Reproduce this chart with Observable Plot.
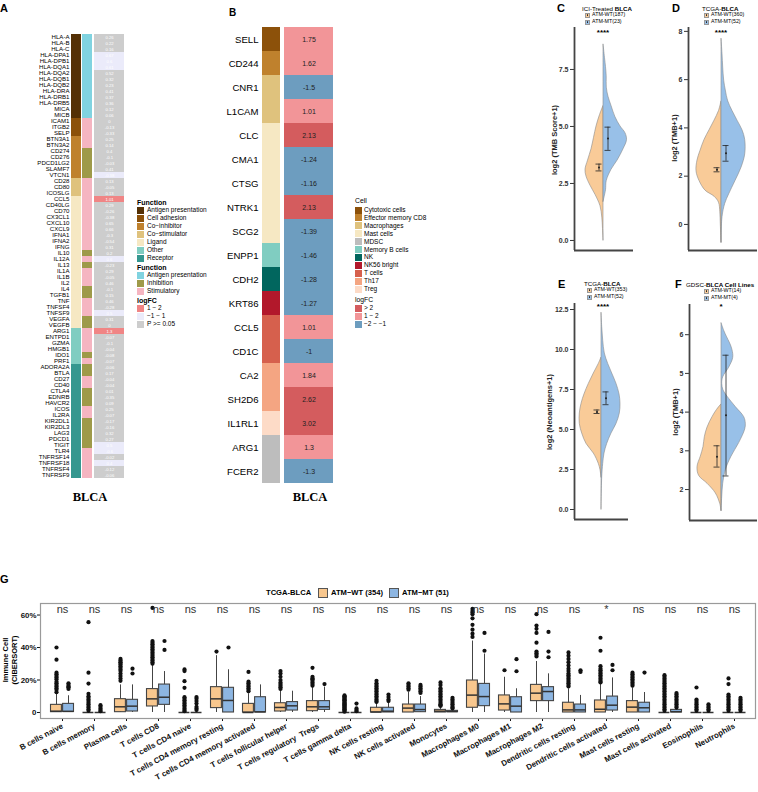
<!DOCTYPE html>
<html><head><meta charset="utf-8">
<script src="https://cdn.jsdelivr.net/npm/d3@7"></script>
<script src="https://cdn.jsdelivr.net/npm/@observablehq/plot@0.6"></script>
<style>
body{margin:0;background:#fff;}
#root{position:relative;width:758px;height:792px;overflow:hidden;background:#fff;}
</style></head><body><div id="root"></div>
<script>
const SANS = '"Liberation Sans", Arial, Helvetica, sans-serif';
const SERIF = '"Liberation Serif", "Times New Roman", serif';

// ---------- Panel A data ----------
const genesA = ["HLA-A","HLA-B","HLA-C","HLA-DPA1","HLA-DPB1","HLA-DQA1","HLA-DQA2","HLA-DQB1","HLA-DQB2","HLA-DRA","HLA-DRB1","HLA-DRB5","MICA","MICB",
"ICAM1","ITGB2","SELP",
"BTN3A1","BTN3A2","CD274","CD276","PDCD1LG2","SLAMF7","VTCN1",
"CD28","CD80","ICOSLG",
"CCL5","CD40LG","CD70","CX3CL1","CXCL10","CXCL9","IFNA1","IFNA2","IFNG","IL10","IL12A","IL13","IL1A","IL1B","IL2","IL4","TGFB1","TNF","TNFSF4","TNFSF9","VEGFA","VEGFB",
"ARG1","ENTPD1","GZMA","HMGB1","IDO1","PRF1",
"ADORA2A","BTLA","CD27","CD40","CTLA4","EDNRB","HAVCR2","ICOS","IL2RA","KIR2DL1","KIR2DL3","LAG3","PDCD1","TIGIT","TLR4","TNFRSF14","TNFRSF18","TNFRSF4","TNFRSF9"];
const func1Names = ["Antigen presentation","Cell adhesion","Co−inhibitor","Co−stimulator","Ligand","Other","Receptor"];
const func1Colors = ["#543005","#8c510a","#bf812d","#dfc27d","#f6e8c3","#80cdc1","#35978f"];
const func1A = [
"Antigen presentation","Antigen presentation","Antigen presentation","Antigen presentation","Antigen presentation","Antigen presentation","Antigen presentation","Antigen presentation","Antigen presentation","Antigen presentation","Antigen presentation","Antigen presentation","Antigen presentation","Antigen presentation",
"Cell adhesion","Cell adhesion","Cell adhesion",
"Co−inhibitor","Co−inhibitor","Co−inhibitor","Co−inhibitor","Co−inhibitor","Co−inhibitor","Co−inhibitor",
"Co−stimulator","Co−stimulator","Co−stimulator",
"Ligand","Ligand","Ligand","Ligand","Ligand","Ligand","Ligand","Ligand","Ligand","Ligand","Ligand","Ligand","Ligand","Ligand","Ligand","Ligand","Ligand","Ligand","Ligand","Ligand","Ligand","Ligand",
"Other","Other","Other","Other","Other","Other",
"Receptor","Receptor","Receptor","Receptor","Receptor","Receptor","Receptor","Receptor","Receptor","Receptor","Receptor","Receptor","Receptor","Receptor","Receptor","Receptor","Receptor","Receptor","Receptor"];
const func2Names = ["Antigen presentation","Inhibition","Stimulatory"];
const func2Colors = ["#80d3e0","#9e9a49","#f5b5c1"];
const AP = "Antigen presentation", IN = "Inhibition", ST = "Stimulatory";
const func2A = [AP,AP,AP,AP,AP,AP,AP,AP,AP,AP,AP,AP,AP,AP,
ST,ST,ST,ST,ST,IN,IN,IN,IN,IN,
ST,ST,ST,ST,ST,ST,ST,ST,ST,ST,ST,ST,
IN,ST,IN,ST,ST,ST,IN,IN,ST,ST,ST,IN,IN,
ST,ST,ST,ST,IN,ST,
IN,IN,ST,ST,IN,IN,IN,ST,ST,IN,IN,IN,IN,IN,ST,ST,ST,ST,ST];
const logfcA = [0.26,0.22,0.16,0.67,0.6,0.61,0.52,0.32,0.23,0.41,0.37,0.36,0.12,0.06,
0,-0.13,-0.33,
0.25,0.14,0.4,-0.1,-0.03,0.41,-0.38,
0.13,-0.05,0.13,
1.01,0.29,-0.26,-0.38,0.65,0.66,-0.3,-0.54,0.31,0.2,0.6,-0.23,0.29,-0.05,0.46,-0.1,0.15,0.46,-0.28,0.5,0.31,0,
1.3,-0.07,-0.1,-0.04,-0.08,-0.07,
-0.06,0.17,-0.04,-0.04,0.01,-0.35,0.09,0.25,-0.07,-0.17,-0.16,0.32,0.27,0.5,-0.6,-0.02,0.4,-0.12,-0.06];
const fcNamesA = ["1 − 2","−1 − 1","P >= 0.05"];
const fcColorsA = ["#f08585","#ebebfa","#cdcdcd"];
const H = "1 − 2", M = "−1 − 1", N = "P >= 0.05";
const sigA = [N,N,N,M,M,M,N,N,N,N,N,N,N,N,
N,N,N,
N,N,N,N,N,N,M,
N,N,N,
H,N,N,N,N,N,N,N,N,N,M,N,N,N,N,N,N,N,N,M,N,N,
H,N,N,N,N,N,
N,N,N,N,N,N,N,N,N,N,N,N,N,M,M,N,M,N,N];

// ---------- Panel B data ----------
const genesB = ["SELL","CD244","CNR1","L1CAM","CLC","CMA1","CTSG","NTRK1","SCG2","ENPP1","CDH2","KRT86","CCL5","CD1C","CA2","SH2D6","IL1RL1","ARG1","FCER2"];
const cellNames = ["Cytotoxic cells","Effector memory CD8","Macrophages","Mast cells","MDSC","Memory B cells","NK","NK56 bright","T cells","Th17","Treg"];
const cellColors = ["#8c510a","#bf812d","#dfc27d","#f6e8c3","#bdbdbd","#80cdc1","#01665e","#b2182b","#d6604d","#f4a582","#fddbc7"];
const cellB = ["Cytotoxic cells","Effector memory CD8","Macrophages","Macrophages","Mast cells","Mast cells","Mast cells","Mast cells","Mast cells","Memory B cells","NK","NK56 bright","T cells","T cells","Th17","Th17","Treg","MDSC","MDSC"];
const logfcB = [1.75,1.62,-1.5,1.01,2.13,-1.24,-1.16,2.13,-1.39,-1.46,-1.28,-1.27,1.01,-1,1.84,2.62,3.02,1.3,-1.3];
const fcNamesB = ["> 2","1 − 2","−2 − −1"];
const fcColorsB = ["#d45c5e","#f29598","#6d9dbf"];
const fcCatB = ["1 − 2","1 − 2","−2 − −1","1 − 2","> 2","−2 − −1","−2 − −1","> 2","−2 − −1","−2 − −1","−2 − −1","−2 − −1","1 − 2","−2 − −1","1 − 2","> 2","> 2","1 − 2","−2 − −1"];

// ---------- Violin panels data: [value, half-width] ----------
const violinC_WT = [[0,0],[0.5,0.5],[1,1.2],[1.5,3],[2,8],[2.4,13],[2.8,17],[3.1,18],[3.5,15.5],[4,12],[4.5,9.5],[5,7],[5.5,3.5],[5.9,0]];
const violinC_MT = [[1.7,0],[2.2,2.5],[2.6,3.2],[3.1,8],[3.5,14],[4,20],[4.4,23.5],[4.7,22],[5,17],[5.4,12],[5.9,8],[6.3,5],[6.7,3.3],[7.2,3.2],[7.6,2.5],[8,1.5],[8.6,0]];
const violinD_WT = [[-0.75,0],[0,0.7],[0.5,1.2],[0.9,2.5],[1.15,7],[1.4,16],[1.8,22],[2.2,25],[2.65,24],[3.05,21],[3.5,17],[3.9,12],[4.3,7],[4.7,2.5],[5.1,0]];
const violinD_MT = [[-0.75,0],[0.3,1],[0.85,3.7],[1.25,7.7],[1.8,14],[2.35,20],[2.9,23.7],[3.5,23.7],[3.9,21],[4.3,16],[4.7,11],[5.1,6.7],[5.55,4.3],[5.95,2.7],[6.5,1.7],[7.05,1],[7.7,0]];
const violinE_WT = [[2,0],[2.45,1],[2.85,2.7],[3.5,7.7],[4.1,15],[4.75,19.3],[5.35,21.7],[6,21.7],[6.6,20],[7.2,17],[7.85,12.7],[8.5,7.7],[9.1,2.7],[9.5,0]];
const violinE_MT = [[0,0],[2,0.7],[2.85,1.7],[3.5,3],[4.1,5.7],[4.75,10],[5.35,15],[6,18.3],[6.6,19],[7.2,18],[7.85,15],[8.5,10.7],[9.1,6.7],[9.75,3.3],[10.55,1.7],[11.4,0.7],[12.3,0]];
const violinF_WT = [[1.45,0],[1.63,1.3],[1.9,5.7],[2.15,14],[2.35,22.3],[2.58,24],[2.85,20.7],[3.1,18],[3.35,16.7],[3.6,14],[3.87,9],[4.05,4.7],[4.2,0]];
const violinF_MT = [[1.45,0],[1.8,0.7],[2.15,1.7],[2.5,4.3],[2.85,10],[3.2,17.7],[3.55,23.7],[3.7,24.3],[3.87,22.7],[4.13,14.3],[4.4,6],[4.56,2],[4.73,0.7],[4.9,1.7],[5.15,7.7],[5.4,11.7],[5.6,11],[5.77,8.7],[5.95,5.3],[6.1,2.7],[6.3,0]];
// mean, lower, upper for [WT, MT]
const errC = [[3.2,3.05,3.35],[4.47,3.95,4.97]];
const errD = [[2.27,2.18,2.35],[2.95,2.62,3.27]];
const errE = [[6.1,6.0,6.22],[6.95,6.55,7.35]];
const errF = [[2.85,2.58,3.13],[3.92,2.35,5.47]];

// ---------- Panel G data ----------
const gCats = ["B cells naive","B cells memory","Plasma cells","T cells CD8","T cells CD4 naive","T cells CD4 memory resting","T cells CD4 memory activated","T cells follicular helper","T cells regulatory \u00a0Tregs","T cells gamma delta","NK cells resting","NK cells activated","Monocytes","Macrophages M0","Macrophages M1","Macrophages M2","Dendritic cells resting","Dendritic cells activated","Mast cells resting","Mast cells activated","Eosinophils","Neutrophils"];
const gSig = ["ns","ns","ns","ns","ns","ns","ns","ns","ns","ns","ns","ns","ns","ns","ns","ns","ns","*","ns","ns","ns","ns"];
// [whisker low, q1, median, q3, whisker high] in %
const wtStats = [[0,0.2,0.8,4.7,11.5],[0,0,0,0,0],[0,0.2,3.5,8.2,17],[0,3.7,8.4,14.4,29],[0,0,0,0,0],[0,2.7,8.4,15.6,35],[0,0,0,5.3,11.5],[0,0.6,3.1,5.7,13.5],[0,0.8,3.5,7,15.6],[0,0,0,0,0],[0,0,0.3,2.9,6],[0,0,2.7,4.9,12.5],[0,0,0.8,1.6,3.5],[0,2.9,10.7,19.7,44],[0,1.2,5.3,10.5,21.7],[0,7,11.9,17,31.4],[0,0,1.6,6,14.6],[0,0,2,7.4,17.6],[0,0,3.3,7,15.2],[0,0,0,0,0],[0,0,0,0,0],[0,0,0,0,0]];
const mtStats = [[0,0.3,0.7,5.3,10.3],[0,0,0,0,0],[0,0.6,3.9,7.8,17],[0,4.7,9.4,17.2,25.2],[0,0,0,0,0],[0,0,7.4,15.2,26.3],[0,0,0.4,9.4,17],[0,1.2,4.1,6.4,13.1],[0,1.6,3.5,7,15.6],[0,0,0,0,0],[0,0,0.8,2.9,6.5],[0,0.2,1.8,4.9,9.8],[0,0.2,0.6,1,1.8],[0,3.9,9.8,17.6,36],[0,0,3.9,9.4,14.6],[0,7,12.9,15.6,23.8],[0,0,1.6,4.9,10.5],[0,1.2,4.5,9.8,21.3],[0,0,2.9,6,12.3],[0,0,0.5,1.6,2.5],[0,0,0,0,0],[0,0,0,0,0]];
const wtOut = [[40,32.5,24.5,23.5,22.5,21.5,20.5,19,18,17,16,15,14,12.5],[55.6,24.5,17.8,11.5,10,9,8,7,6,5,4,3,2,1],[33,32,31,30.5,29.5,28.5,27.5,26.5,25.5,24,22.5,21,19.5],[64.4,44,43,42,41,40,39,38,37,36,35,34,33,32,31,30],[26.5,25.5,19.3,15.2,9.4,8.5,7.5,6.5,5.5,4.5,3.5,2.5,1.5,0.8],[37.5],[25,19,18,17,16,15,14,13],[25.5,24,22,20,18.5,17.5,16.5,15.5,14.5],[27.5,22,21,20.5,19.5,18.5,17.5,16.5],[10.5,10,9.5,9,8.5,8,7.5,7,6.5,6,5.5,5,4.5,4,3.5,3,2.5,2,1.5,1,0.5],[19.5,18,17,16,15,14,13,12,11,10,9,8,7,6.5],[18,17,16,15,14],[18.5,17,15,14,13,12,11,10,9,8,7,6,5,4.5,4],[63.8,62.5,61.5,60.5,58,54,51,48.5,46.5],[26],[60.5,53.5,51.5,49,43,37.5,36.5,35.5,34.5],[37,35,33,31,29,27,25.5,24,23,22,21,20,19,18,17,16],[46,38,28.5,27,26,25,24,23,22,21,20,19,18.5],[24.5,23.5,22.5,21.5,20.5,19.5,18.5,17.5,16.5],[23,22,21,20,19,18,17,16,15,14,13,12,11,10,9,8,7,6,5,4,3,2,1],[15.4,8,7,6,5,4,3,2,1],[21,17.5,11,10,9,8,7,6,5,4,3,2,1]];
const mtOut = [[18,17,16,15.5,14.5],[4.5,3.5,2.5,1.5,0.8],[27,24],[44,38.5],[9.5,8.5,7,5.5,3.5,2.5,1.5],[40],[],[],[17.5],[5.5,2.5,1.5,0.8],[11,9.5,8,7],[17,16,15,14,13,12],[9,8,7,6,5,4,3,2.5],[49,38],[32.8,25.4],[49.6,37.5,34],[26,25],[29.3,26],[24.6],[12,11,10,9,8,7,6,5,4,3],[5,4,3,2,1],[9,8,7,6,5,4,3,2,1]];

// ---------- helpers ----------
const root = document.getElementById("root");
function put(node, x, y) {
  const d = document.createElement("div");
  d.style.cssText = `position:absolute;left:${x}px;top:${y}px;line-height:0;`;
  d.appendChild(node); root.appendChild(d); return d;
}
function label(html, x, y, o = {}) {
  const d = document.createElement("div");
  d.innerHTML = html;
  const tx = o.anchor === "middle" ? "-50%" : o.anchor === "end" ? "-100%" : "0";
  d.style.cssText = `position:absolute;left:${x}px;top:${y}px;white-space:nowrap;line-height:1;font-size:${o.size||7}px;font-weight:${o.weight||"normal"};font-family:${o.family||SANS};color:${o.color||"#000"};transform:translate(${tx},-50%)${o.rotate?` rotate(${o.rotate}deg)`:""};`;
  root.appendChild(d); return d;
}
function swatch(x, y, w, h, color, border, dot) {
  const d = document.createElement("div");
  d.style.cssText = `position:absolute;left:${x}px;top:${y - h/2}px;width:${w}px;height:${h}px;background:${color};box-sizing:border-box;${border?`border:1px solid ${border};`:""}`;
  if (dot) { const s = document.createElement("div"); s.style.cssText = `position:absolute;left:50%;top:50%;width:1.5px;height:1.5px;margin:-0.75px 0 0 -0.75px;background:#222;border-radius:50%;`; d.appendChild(s); }
  root.appendChild(d);
}
const baseStyle = (size, weight) => ({fontFamily: SANS, fontSize: size + "px", fontWeight: weight || "normal", background: "transparent", color: "#000", overflow: "visible"});

function heatColumn(o) {
  const marks = [Plot.cell(o.data, {x: () => "c", y: "gene", fill: o.fill, inset: 0})];
  if (o.text) marks.push(Plot.text(o.data, {x: () => "c", y: "gene", text: o.text, fill: o.textFill, fontSize: o.textSize}));
  const svg = Plot.plot({
    width: o.marginLeft + o.width, height: o.bottom + 4,
    marginLeft: o.marginLeft, marginRight: 0, marginTop: o.top, marginBottom: 4,
    x: {domain: ["c"], axis: null, padding: 0},
    y: {domain: o.yDomain, padding: 0, axis: o.axis ? "left" : null, tickSize: 0, tickPadding: o.tickPadding || 2, label: null},
    color: {domain: o.domain, range: o.range},
    style: baseStyle(o.fontSize || 6),
    marks
  });
  put(svg, o.left - o.marginLeft, 0);
}

// ---------- Panel A ----------
const rowsA = genesA.map((g, i) => ({gene: g, f1: func1A[i], f2: func2A[i], fc: logfcA[i], sig: sigA[i]}));
heatColumn({data: rowsA, fill: "f1", domain: func1Names, range: func1Colors, left: 71, width: 10, marginLeft: 71, top: 25, bottom: 486, yDomain: genesA, axis: true, fontSize: 6.1, tickPadding: 2});
heatColumn({data: rowsA, fill: "f2", domain: func2Names, range: func2Colors, left: 82, width: 10, marginLeft: 0, top: 25, bottom: 486, yDomain: genesA});
heatColumn({data: rowsA, fill: "sig", domain: fcNamesA, range: fcColorsA, left: 94, width: 30, marginLeft: 0, top: 25, bottom: 486, yDomain: genesA, text: d => String(d.fc), textFill: "white", textSize: 4.2});
label("BLCA", 90, 497, {size: 12.5, weight: "bold", family: SERIF, anchor: "middle"});

// legend A
label("Function", 137, 202, {size: 7, weight: "bold"});
func1Names.forEach((n, i) => { swatch(137, 210 + 8 * i, 7, 7, func1Colors[i]); label(n, 147, 210 + 8 * i, {size: 6.5}); });
label("Function", 137, 267, {size: 7, weight: "bold"});
func2Names.forEach((n, i) => { swatch(137, 275 + 8 * i, 7, 7, func2Colors[i]); label(n, 147, 275 + 8 * i, {size: 6.5}); });
label("logFC", 137, 300, {size: 7, weight: "bold"});
fcNamesA.forEach((n, i) => { swatch(137, 308 + 8 * i, 7, 7, fcColorsA[i]); label(n, 147, 308 + 8 * i, {size: 6.5}); });

// ---------- Panel B ----------
const rowsB = genesB.map((g, i) => ({gene: g, cell: cellB[i], fc: logfcB[i], cat: fcCatB[i]}));
heatColumn({data: rowsB, fill: "cell", domain: cellNames, range: cellColors, left: 262, width: 18, marginLeft: 262, top: 25, bottom: 485, yDomain: genesB, axis: true, fontSize: 9.6, tickPadding: 4});
heatColumn({data: rowsB, fill: "cat", domain: fcNamesB, range: fcColorsB, left: 284, width: 49, marginLeft: 0, top: 25, bottom: 485, yDomain: genesB, text: d => String(d.fc), textFill: "#222", textSize: 7});
label("BLCA", 310, 497, {size: 12.5, weight: "bold", family: SERIF, anchor: "middle"});

// legend B
label("Cell", 355, 201, {size: 6.8});
cellNames.forEach((n, i) => { swatch(355, 210 + 7.9 * i, 7, 7, cellColors[i]); label(n, 364, 210 + 7.9 * i, {size: 6.5}); });
label("logFC", 355, 300, {size: 6.8});
fcNamesB.forEach((n, i) => { swatch(355, 308 + 8 * i, 7, 7, fcColorsB[i]); label(n, 364, 308 + 8 * i, {size: 6.5}); });

// ---------- Violin panels ----------
const orangeV = "#f9cb98", blueV = "#98c0e8";
function violinPanel(p) {
  const mL = 36, mT = 4, mB = 4;
  const W = mL + (p.right - p.axisX);
  const Ht = mT + (p.bottom - p.top) + mB;
  const toObj = a => a.map(([v, w]) => ({v, w}));
  const wt = toObj(p.wt), mt = toObj(p.mt);
  const err = p.err.map(([mean, lo, hi], i) => ({x: i === 0 ? -4.5 : 4.5, mean, lo, hi}));
  const x0 = p.axisX - p.center;
  const svg = Plot.plot({
    width: W, height: Ht, marginLeft: mL, marginRight: 0, marginTop: mT, marginBottom: mB,
    x: {domain: [x0, p.right - p.center], axis: null},
    y: {domain: p.yDomain, ticks: p.ticks, tickFormat: p.fmt, tickSize: 4, tickPadding: 2, label: null},
    style: {...baseStyle(7, "bold"), color: "#333"},
    marks: [
      Plot.areaX(wt, {y: "v", x1: 0, x2: d => -d.w, fill: orangeV, stroke: "#8a8a8a", strokeWidth: 0.6, curve: "catmull-rom"}),
      Plot.areaX(mt, {y: "v", x1: 0, x2: "w", fill: blueV, stroke: "#8a8a8a", strokeWidth: 0.6, curve: "catmull-rom"}),
      Plot.ruleX(err, {x: "x", y1: "lo", y2: "hi", stroke: "#222", strokeWidth: 0.8}),
      Plot.ruleY(err, {y: "lo", x1: d => d.x - 3, x2: d => d.x + 3, stroke: "#222", strokeWidth: 0.8}),
      Plot.ruleY(err, {y: "hi", x1: d => d.x - 3, x2: d => d.x + 3, stroke: "#222", strokeWidth: 0.8}),
      Plot.dot(err, {x: "x", y: "mean", r: 1, fill: "#222"}),
      Plot.ruleX([x0], {stroke: "#444", strokeWidth: 1.8}),
      Plot.ruleY([p.yDomain[0]], {stroke: "#444", strokeWidth: 1.8})
    ]
  });
  put(svg, p.axisX - mL, p.top - mT);
}
const f1 = d3.format(".1f"), fd = d3.format("d");
violinPanel({axisX: 574, top: 27, bottom: 250, right: 633, center: 603, yDomain: [-0.44, 9.34], ticks: [0, 2.5, 5, 7.5], fmt: f1, wt: violinC_WT, mt: violinC_MT, err: errC});
violinPanel({axisX: 688, top: 27, bottom: 250, right: 757, center: 721, yDomain: [-1.08, 8.16], ticks: [0, 2, 4, 6, 8], fmt: fd, wt: violinD_WT, mt: violinD_MT, err: errD});
violinPanel({axisX: 574, top: 303, bottom: 519, right: 628, center: 601, yDomain: [-0.625, 12.875], ticks: [0, 2.5, 5, 7.5, 10, 12.5], fmt: f1, wt: violinE_WT, mt: violinE_MT, err: errE});
violinPanel({axisX: 689, top: 304, bottom: 520, right: 757, center: 721, yDomain: [1.2, 6.78], ticks: [2, 3, 4, 5, 6], fmt: fd, wt: violinF_WT, mt: violinF_MT, err: errF});

function violinLegend(x, titleX, yTitle, title, wtLab, mtLab) {
  label(title, titleX, yTitle, {size: 6.2});
  swatch(x, yTitle + 6, 5, 5, orangeV, "#999", true); label(wtLab, x + 7, yTitle + 6, {size: 5.3});
  swatch(x, yTitle + 13, 5, 5, blueV, "#999", true); label(mtLab, x + 7, yTitle + 13, {size: 5.3});
}
violinLegend(585, 582, 9, "ICI-Treated <b>BLCA</b>", "ATM-WT(187)", "ATM-MT(23)");
violinLegend(704, 702, 9, "TCGA-<b>BLCA</b>", "ATM-WT(360)", "ATM-MT(52)");
violinLegend(587, 584, 284, "TCGA-<b>BLCA</b>", "ATM-WT(353)", "ATM-MT(52)");
violinLegend(704, 686, 285, "GDSC-<b>BLCA</b> <b>Cell Lines</b>", "ATM-WT(14)", "ATM-MT(4)");
label("****", 603, 33, {size: 8, weight: "bold", anchor: "middle"});
label("****", 721, 33, {size: 8, weight: "bold", anchor: "middle"});
label("****", 603, 307, {size: 8, weight: "bold", anchor: "middle"});
label("*", 721, 307, {size: 8, weight: "bold", anchor: "middle"});
label("log2 (TMB Score+1)", 555, 140, {size: 7.5, weight: "bold", anchor: "middle", rotate: -90, color: "#222"});
label("log2 (TMB+1)", 675, 138, {size: 7.5, weight: "bold", anchor: "middle", rotate: -90, color: "#222"});
label("log2 (Neoantigens+1)", 550, 412, {size: 7.5, weight: "bold", anchor: "middle", rotate: -90, color: "#222"});
label("log2 (TMB+1)", 676, 412, {size: 7.5, weight: "bold", anchor: "middle", rotate: -90, color: "#222"});

// ---------- Panel G ----------
const orangeB = "#f8c78e", blueB = "#8db6e2";
const toBox = s => gCats.map((c, i) => ({cat: c, lo: s[i][0], q1: s[i][1], med: s[i][2], q3: s[i][3], hi: s[i][4]}));
const boxesWT = toBox(wtStats), boxesMT = toBox(mtStats);
const outWT = gCats.flatMap((c, i) => wtOut[i].map(v => ({cat: c, v})));
const outMT = gCats.flatMap((c, i) => mtOut[i].map(v => ({cat: c, v})));
const inL = 4.5, inR = 16.6;
const svgG = Plot.plot({
  width: 758, height: 202, marginLeft: 40, marginRight: 3, marginTop: 13, marginBottom: 74,
  x: {domain: gCats, paddingInner: 0, paddingOuter: 0.1, tickRotate: -28, tickSize: 3, tickPadding: 4, label: null},
  y: {domain: [-3.7, 67.1], ticks: [0, 20, 40, 60], tickFormat: d => d === 0 ? "0" : d + "%", tickSize: 3, tickPadding: 1, label: null},
  style: {...baseStyle(7.9, "bold"), color: "#111"},
  marks: [
    Plot.ruleX(boxesWT, {x: "cat", y1: "lo", y2: "hi", dx: -6, stroke: "#444", strokeWidth: 1}),
    Plot.ruleX(boxesMT, {x: "cat", y1: "lo", y2: "hi", dx: 6, stroke: "#444", strokeWidth: 1}),
    Plot.barY(boxesWT, {x: "cat", y1: "q1", y2: "q3", fill: orangeB, stroke: "#444", strokeWidth: 1.1, insetLeft: inL, insetRight: inR}),
    Plot.barY(boxesMT, {x: "cat", y1: "q1", y2: "q3", fill: blueB, stroke: "#444", strokeWidth: 1.1, insetLeft: inR, insetRight: inL}),
    Plot.tickY(boxesWT, {x: "cat", y: "med", stroke: "#333", strokeWidth: 1.5, insetLeft: inL, insetRight: inR}),
    Plot.tickY(boxesMT, {x: "cat", y: "med", stroke: "#333", strokeWidth: 1.5, insetLeft: inR, insetRight: inL}),
    Plot.dot(outWT, {x: "cat", y: "v", dx: -6, r: 2.1, fill: "#111"}),
    Plot.dot(outMT, {x: "cat", y: "v", dx: 6, r: 2.1, fill: "#111"}),
    Plot.text(gCats, {x: d => d, y: 63.3, text: (d, i) => gSig[i], fontSize: 11, fontWeight: "normal", fill: "#333"}),
    Plot.frame({stroke: "#9a9a9a", strokeWidth: 1.2})
  ]
});
put(svgG, 0, 590);
label("TCGA-BLCA", 266, 593, {size: 7.6, weight: "bold"});
swatch(318, 593, 10, 10, orangeB, "#555"); label("ATM−WT (354)", 331, 593, {size: 7.6, weight: "bold"});
swatch(389, 593, 10, 10, blueB, "#555"); label("ATM−MT (51)", 402, 593, {size: 7.6, weight: "bold"});
label("Immune Cell", 6, 660, {size: 7.5, weight: "bold", anchor: "middle", rotate: -90});
label("(CIBERSORT)", 15, 660, {size: 7.5, weight: "bold", anchor: "middle", rotate: -90});

// ---------- Panel letters ----------
label("A", 0, 8, {size: 11, weight: "bold"});
label("B", 229, 13, {size: 10, weight: "bold"});
label("C", 557, 8, {size: 11, weight: "bold"});
label("D", 672, 8, {size: 11, weight: "bold"});
label("E", 558, 284, {size: 11, weight: "bold"});
label("F", 675, 284, {size: 11, weight: "bold"});
label("G", 0, 579, {size: 11, weight: "bold"});
</script></body></html>
